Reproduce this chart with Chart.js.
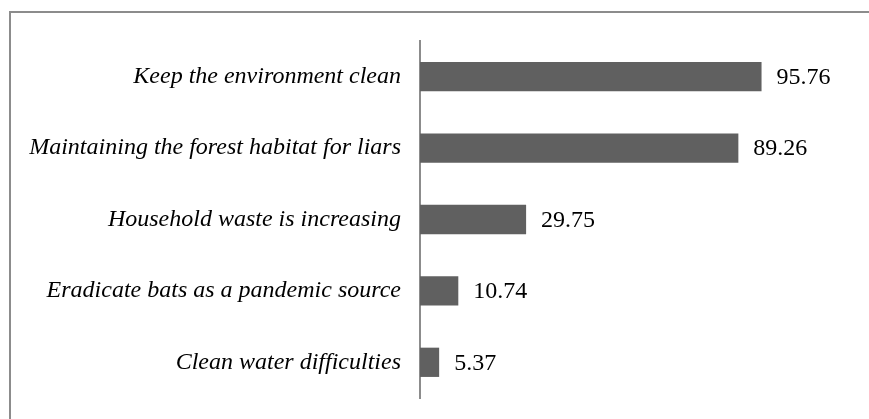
<!DOCTYPE html>
<html>
<head>
<meta charset="utf-8">
<script src="https://cdn.jsdelivr.net/npm/chart.js@4"></script>
<style>
  body { margin: 0; background: #fff; }
  #wrap { position: relative; width: 869px; height: 419px; overflow: hidden; }
  #frame { position: absolute; left: 9px; top: 11px; width: 900px; height: 450px;
           border-left: 2px solid #8c8c8c; border-top: 2px solid #8c8c8c; }
  #myChart { position: absolute; left: 0; top: 0; }
</style>
</head>
<body>
<div id="wrap">
  <div id="frame"></div>
  <canvas id="myChart" width="869" height="419"></canvas>
</div>
<script>
const categories = [
    'Keep the environment clean',
    'Maintaining the forest habitat for liars',
    'Household waste is increasing',
    'Eradicate bats as a pandemic source',
    'Clean water difficulties'
];
const values = [95.76, 89.26, 29.75, 10.74, 5.37];

// draws the numbers at the end of each bar
const valueLabels = {
    id: 'valueLabels',
    afterDatasetsDraw(chart) {
        const ctx = chart.ctx;
        const meta = chart.getDatasetMeta(0);
        ctx.save();
        ctx.font = '24px "Liberation Serif", "Times New Roman", serif';
        ctx.fillStyle = '#000';
        ctx.textAlign = 'left';
        ctx.textBaseline = 'middle';
        meta.data.forEach((bar, i) => {
            ctx.fillText(values[i].toFixed(2), bar.x + 15, bar.y + 1);
        });
        ctx.restore();
    }
};

const config = {
    type: 'bar',
    data: {
        labels: categories,
        datasets: [{
            data: values,
            backgroundColor: '#606060',
            borderWidth: 0,
            barPercentage: 0.41,
            categoryPercentage: 1
        }]
    },
    options: {
        indexAxis: 'y',
        responsive: false,
        animation: false,
        layout: { padding: { left: 0, right: 21, top: 41, bottom: 21 } },
        plugins: {
            legend: { display: false },
            tooltip: { enabled: false }
        },
        scales: {
            x: {
                display: false,
                min: 0,
                max: 120
            },
            y: {
                afterFit: (s) => {
                    s.width = 420;
                    s.paddingTop = 0;
                    s.paddingBottom = 0;
                },
                grid: { display: false, drawTicks: false },
                border: { display: true, color: '#8c8c8c', width: 2 },
                ticks: {
                    padding: 19,
                    color: '#000',
                    font: { family: '"Liberation Serif", "Times New Roman", serif', size: 24, style: 'italic' }
                }
            }
        }
    },
    plugins: [valueLabels]
};

let myChart = new Chart(document.getElementById('myChart'), config);
</script>
</body>
</html>
